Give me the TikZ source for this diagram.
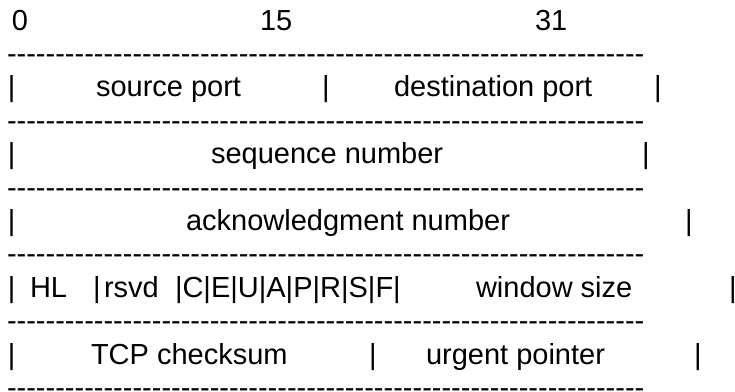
\documentclass[tikz,border=0pt]{standalone}
\usepackage{fontspec}
\newfontfamily\asciifont[Ligatures=TeXOff]{Liberation Sans}
\usepackage{tikz}

\newcommand{\dashrow}{------------------------------------------------------------------}

\begin{document}
\begin{tikzpicture}[x=1pt, y=-1pt]
        \tikzstyle{txt} = [anchor=base west, inner sep=0pt, outer sep=0pt, font=\asciifont\fontsize{29}{33}\selectfont]
        \useasboundingbox (0,0) rectangle (735,391);
        % bit numbers
        \node[txt] (bit0) at (12,30) {0};
        \node[txt] (bit15) at (260,30) {15};
        \node[txt] (bit31) at (535,30) {31};
        % rules
        \node[txt] (rule1) at (7,63.4) {\dashrow};
        \node[txt] (rule2) at (7,130.2) {\dashrow};
        \node[txt] (rule3) at (7,197) {\dashrow};
        \node[txt] (rule4) at (7,263.8) {\dashrow};
        \node[txt] (rule5) at (7,330.6) {\dashrow};
        \node[txt] (rule6) at (7,397.4) {\dashrow};
        % ports
        \node[txt] (bar11) at (8,96.8) {|};
        \node[txt] (srcport) at (96,96.8) {source port};
        \node[txt] (bar12) at (322,96.8) {|};
        \node[txt] (dstport) at (394,96.8) {destination port};
        \node[txt] (bar13) at (654,96.8) {|};
        % sequence number
        \node[txt] (bar21) at (8,163.6) {|};
        \node[txt] (seqnum) at (211,163.6) {sequence number};
        \node[txt] (bar22) at (642,163.6) {|};
        % acknowledgment number
        \node[txt] (bar31) at (8,230.4) {|};
        \node[txt] (acknum) at (186,230.4) {acknowledgment number};
        \node[txt] (bar32) at (685,230.4) {|};
        % header length, flags, window
        \node[txt] (bar41) at (8,297.2) {|};
        \node[txt] (hlen) at (30,297.2) {HL};
        \node[txt] (bar42) at (93,297.2) {|};
        \node[txt] (rsvd) at (104,297.2) {rsvd};
        \node[txt] (flags) at (175,297.2) {|C|E|U|A|P|R|S|F|};
        \node[txt] (window) at (476,297.2) {window size};
        \node[txt] (bar43) at (729,297.2) {|};
        % checksum, urgent pointer
        \node[txt] (bar51) at (8,364) {|};
        \node[txt] (checksum) at (91,364) {TCP checksum};
        \node[txt] (bar52) at (369,364) {|};
        \node[txt] (urgent) at (426,364) {urgent pointer};
        \node[txt] (bar53) at (694,364) {|};
    \end{tikzpicture}
\end{document}
